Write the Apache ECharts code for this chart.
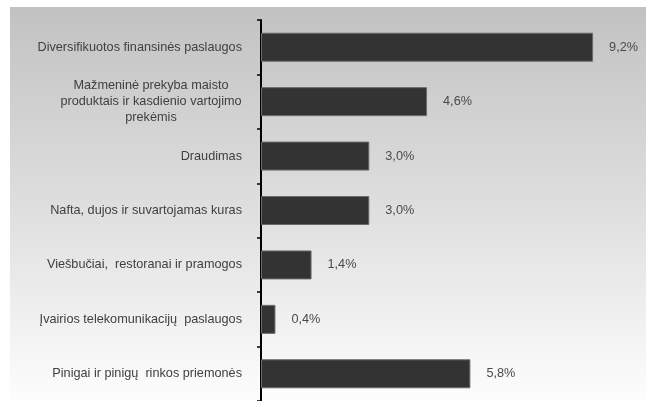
<!DOCTYPE html>
<html>
<head>
<meta charset="utf-8">
<script src="https://cdn.jsdelivr.net/npm/echarts@6/dist/echarts.min.js"></script>
<style>
html,body{margin:0;padding:0;background:#fff;}
#chart{width:646px;height:401px;}
</style>
</head>
<body>
<div id="chart"></div>
<script>
const categories = [
  'Diversifikuotos finansinės paslaugos',
  'Mažmeninė prekyba maisto\nproduktais ir kasdienio vartojimo\nprekėmis',
  'Draudimas',
  'Nafta, dujos ir suvartojamas kuras',
  'Viešbučiai,  restoranai ir pramogos',
  'Įvairios telekomunikacijų  paslaugos',
  'Pinigai ir pinigų  rinkos priemonės'
];
const values = [9.2, 4.6, 3.0, 3.0, 1.4, 0.4, 5.8];

const chart = echarts.init(document.getElementById('chart'), null, {renderer: 'canvas'});
const fontFamily = 'Liberation Sans, Arial, sans-serif';
const fs = 12.7;

chart.setOption({
  animation: false,
  backgroundColor: '#ffffff',
  graphic: [{
    type: 'rect',
    z: -10,
    silent: true,
    shape: {x: 10, y: 7, width: 636, height: 394},
    style: {
      fill: new echarts.graphic.LinearGradient(0, 0, 0, 1, [
        {offset: 0, color: '#c2c2c2'},
        {offset: 0.5, color: '#dedede'},
        {offset: 1, color: '#fdfdfd'}
      ])
    }
  }],
  grid: {left: 261, top: 20, width: 361, height: 386},
  xAxis: {
    type: 'value',
    min: 0,
    max: 10,
    show: false
  },
  yAxis: {
    type: 'category',
    inverse: true,
    data: categories,
    axisLine: {show: true, lineStyle: {color: '#000', width: 2}},
    axisTick: {show: true, length: 4, lineStyle: {color: '#000', width: 1.5}},
    axisLabel: {
      margin: 19,
      color: '#404040',
      fontFamily: fontFamily,
      fontSize: fs,
      align: 'right',
      formatter: function (v) {
        if (v.indexOf('\n') >= 0) {
          return v.split('\n').map(l => '{c|' + l + '}').join('\n');
        }
        return v;
      },
      rich: {
        c: {width: 182, align: 'center', lineHeight: 16, fontSize: fs, color: '#404040', fontFamily: fontFamily}
      }
    }
  },
  series: [{
    type: 'bar',
    data: values,
    barWidth: 29,
    itemStyle: {color: '#333333', borderColor: '#6a6a6a', borderWidth: 1},
    label: {
      show: true,
      position: 'right',
      distance: 16,
      color: '#4a4a4a',
      fontFamily: fontFamily,
      fontSize: fs,
      formatter: p => p.value.toFixed(1).replace('.', ',') + '%'
    }
  }]
});
</script>
</body>
</html>
